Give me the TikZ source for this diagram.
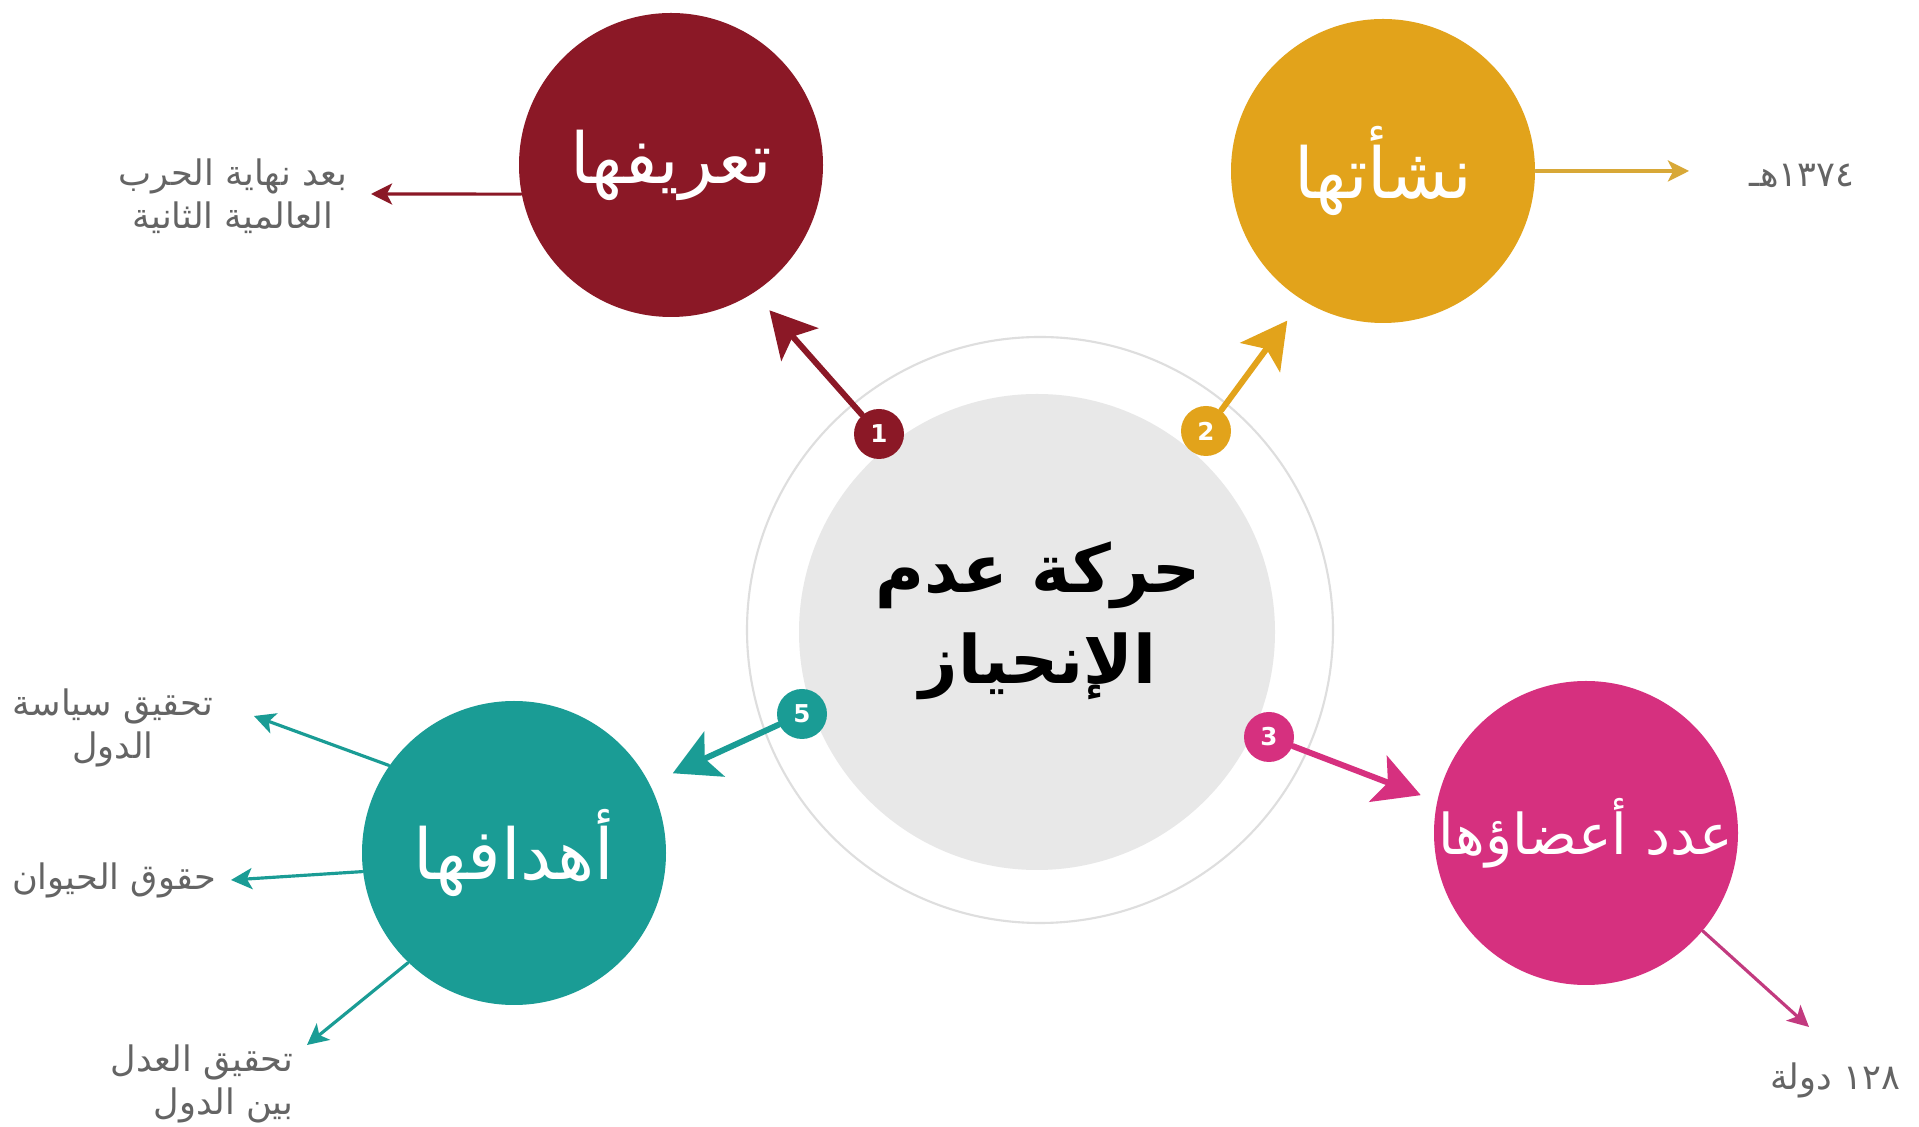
\documentclass[tikz,border=0pt]{standalone}
\usepackage{fontspec}
\setmainfont{DejaVu Sans}
\newfontfamily\arabicfont[Script=Arabic]{DejaVu Sans}
\TeXXeTstate=1
\usetikzlibrary{arrows.meta}
\definecolor{defred}{RGB}{139,24,38}
\definecolor{origold}{RGB}{226,163,27}
\definecolor{lightgold}{RGB}{216,168,55}
\definecolor{memberpink}{RGB}{214,48,127}
\definecolor{darkpink}{RGB}{194,58,127}
\definecolor{goalteal}{RGB}{26,156,149}
\definecolor{diskgray}{RGB}{232,232,232}
\definecolor{ringgray}{RGB}{222,222,222}
\definecolor{labelgray}{RGB}{100,100,100}
\begin{document}
\begin{tikzpicture}[line cap=round, line join=round,
    topic/.style={circle, fill=#1, minimum size=3.04cm, inner sep=0pt, text=white,
      font=\arabicfont\fontsize{20}{24}\selectfont},
    numdot/.style={circle, fill=#1, minimum size=0.5cm, inner sep=0pt, text=white,
      font=\fontsize{7}{8}\selectfont\bfseries},
    inarrow/.style={draw=#1, line width=1.7pt, -{Stealth[length=13pt,width=14pt,inset=3pt]}},
    outarrow/.style={draw=#1, line width=0.9pt, -{Stealth[length=6pt,width=6pt,inset=1.5pt]}},
    note/.style={text=labelgray, align=center, inner sep=1pt,
      font=\arabicfont\fontsize{10}{12.2}\selectfont}]
  % 背景と枠
  \fill[white] (0,0) rectangle (19.19,11.21);
  % --- 中央の円 ---
  \draw[ringgray, line width=0.6pt] (10.40,4.91) circle (2.93);
  \node[circle, fill=diskgray, minimum size=4.76cm, inner sep=0pt] (core) at (10.37,4.89) {};
  \node[align=center, font=\arabicfont\bfseries\fontsize{19}{26}\selectfont] (coretxt) at (10.38,5.0)
    {\beginR حركة عدم\endR\\\beginR الإنحياز\endR};
  % --- 番号の丸 ---
  \node[numdot=defred] (n1) at (8.79,6.87) {1};
  \node[numdot=origold] (n2) at (12.06,6.90) {2};
  \node[numdot=memberpink] (n3) at (12.69,3.84) {3};
  \node[numdot=goalteal] (n5) at (8.02,4.07) {5};
  % --- 四つの色の円 ---
  \node[topic=defred] (tarif) at (6.71,9.56) {\beginR تعريفها\endR};
  \node[topic=origold] (nashaa) at (13.83,9.50) {\beginR نشأتها\endR};
  \node[topic=memberpink, font=\arabicfont\fontsize{16}{20}\selectfont] (aadad) at (15.86,2.88) {\beginR عدد أعضاؤها\endR};
  \node[topic=goalteal] (ahdaf) at (5.14,2.68) {\beginR أهدافها\endR};
  % 番号から円へ(太い矢印)
  \draw[inarrow=defred, shorten >=0.23cm] (n1) -- (tarif.-57);
  \draw[inarrow=origold, shorten >=0.25cm] (n2) -- (nashaa.-122);
  \draw[inarrow=memberpink, shorten >=0.17cm] (n3) -- (aadad.168);
  \draw[inarrow=goalteal, shorten >=0.25cm] (n5) -- (ahdaf.27);
  % --- 外側の説明 ---
  \node[note] (deftxt) at (2.33,9.25) {\beginR بعد نهاية الحرب\endR\\\beginR العالمية الثانية\endR};
  \node[note] (yeartxt) at (18.02,9.45) {\beginR ١٣٧٤هـ\endR};
  \node[note] (counttxt) at (18.35,0.41) {\beginR ١٢٨ دولة\endR};
  \node[note] (goal1) at (1.13,3.93) {\beginR تحقيق سياسة\endR\\\beginR الدول\endR};
  \node[note] (goal2) at (1.14,2.41) {\beginR حقوق الحيوان\endR};
  \node[note, align=right] (goal3) at (2.02,0.37) {\beginR تحقيق العدل\endR\\\beginR بين الدول\endR};
  % 矢印の先
  \coordinate (deftip) at (3.71,9.27);
  \coordinate (yeartip) at (16.89,9.50);
  \coordinate (counttip) at (18.09,0.94);
  \coordinate (goaltip1) at (2.54,4.05);
  \coordinate (goaltip2) at (2.31,2.41);
  \coordinate (goaltip3) at (3.07,0.76);
  % 円から説明へ(細い矢印)
  \draw[outarrow=defred] (tarif.191) -- (deftip);
  \draw[outarrow=lightgold] (nashaa.east) -- (yeartip);
  \draw[outarrow=darkpink] (aadad.-40) -- (counttip);
  \draw[outarrow=goalteal] (ahdaf.145) -- (goaltip1);
  \draw[outarrow=goalteal] (ahdaf.187) -- (goaltip2);
  \draw[outarrow=goalteal] (ahdaf.226) -- (goaltip3);
\end{tikzpicture}
\end{document}
